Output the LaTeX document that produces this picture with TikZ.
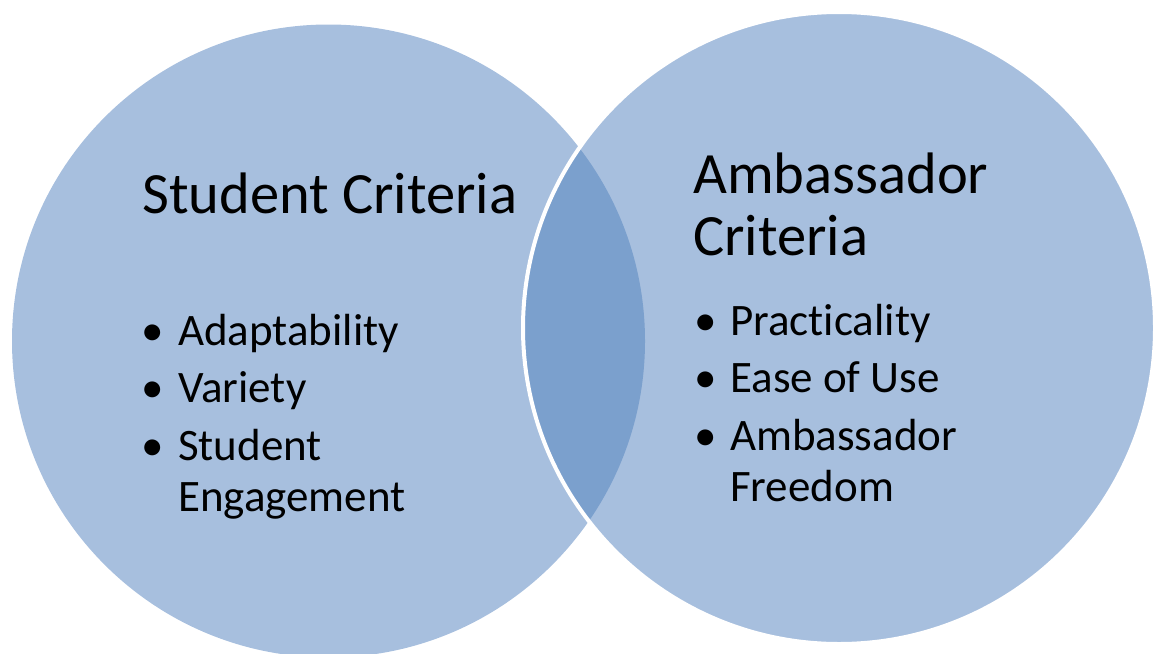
\documentclass[tikz,border=0pt]{standalone}
\usepackage{fontspec}
\setmainfont{Carlito}[RawFeature=-liga]
\definecolor{lightblue}{HTML}{A7BFDE}
\definecolor{darkblue}{HTML}{7BA0CD}
\tikzset{
  title/.style={anchor=base west, inner sep=0pt, font=\fontsize{58.5}{62}\selectfont},
  item/.style={anchor=base west, inner sep=0pt, font=\fontsize{45}{50}\selectfont},
  dot/.style={anchor=base, inner sep=0pt, font=\fontsize{45}{50}\selectfont},
}
\begin{document}
\begin{tikzpicture}[x=1pt,y=-1pt]
\useasboundingbox (0,0) rectangle (1155,653);
\clip (0,0) rectangle (1155,653);
\coordinate (cl) at (328.5,341);
\coordinate (cr) at (839,328);
% circles
\fill[lightblue] (cl) circle (316.5pt);
\fill[lightblue] (cr) circle (316pt);
\begin{scope}
  \clip (cl) circle (316.5pt);
  \fill[darkblue] (cr) circle (316pt);
\end{scope}
\draw[white, line width=4pt] (cr) circle (316pt);
% left texts
\node[title] (lt) at (142,213) {Student Criteria};
\node[dot] (lb1) at (153,345) {\textbullet};
\node[item] (li1) at (178,345) {Adaptability};
\node[dot] (lb2) at (153,402) {\textbullet};
\node[item] (li2) at (178,402) {Variety};
\node[dot] (lb3) at (153,460) {\textbullet};
\node[item] (li3) at (178,460) {Student};
\node[item] (li4) at (178,511) {Engagement};
% right texts
\node[title] (rt1) at (693,193) {Ambassador};
\node[title] (rt2) at (693,255) {Criteria};
\node[dot] (rb1) at (706,335) {\textbullet};
\node[item] (ri1) at (730,335) {Practicality};
\node[dot] (rb2) at (706,392) {\textbullet};
\node[item] (ri2) at (730,392) {Ease of Use};
\node[dot] (rb3) at (706,450) {\textbullet};
\node[item] (ri3) at (730,450) {Ambassador};
\node[item] (ri4) at (730,501) {Freedom};
\end{tikzpicture}
\end{document}
